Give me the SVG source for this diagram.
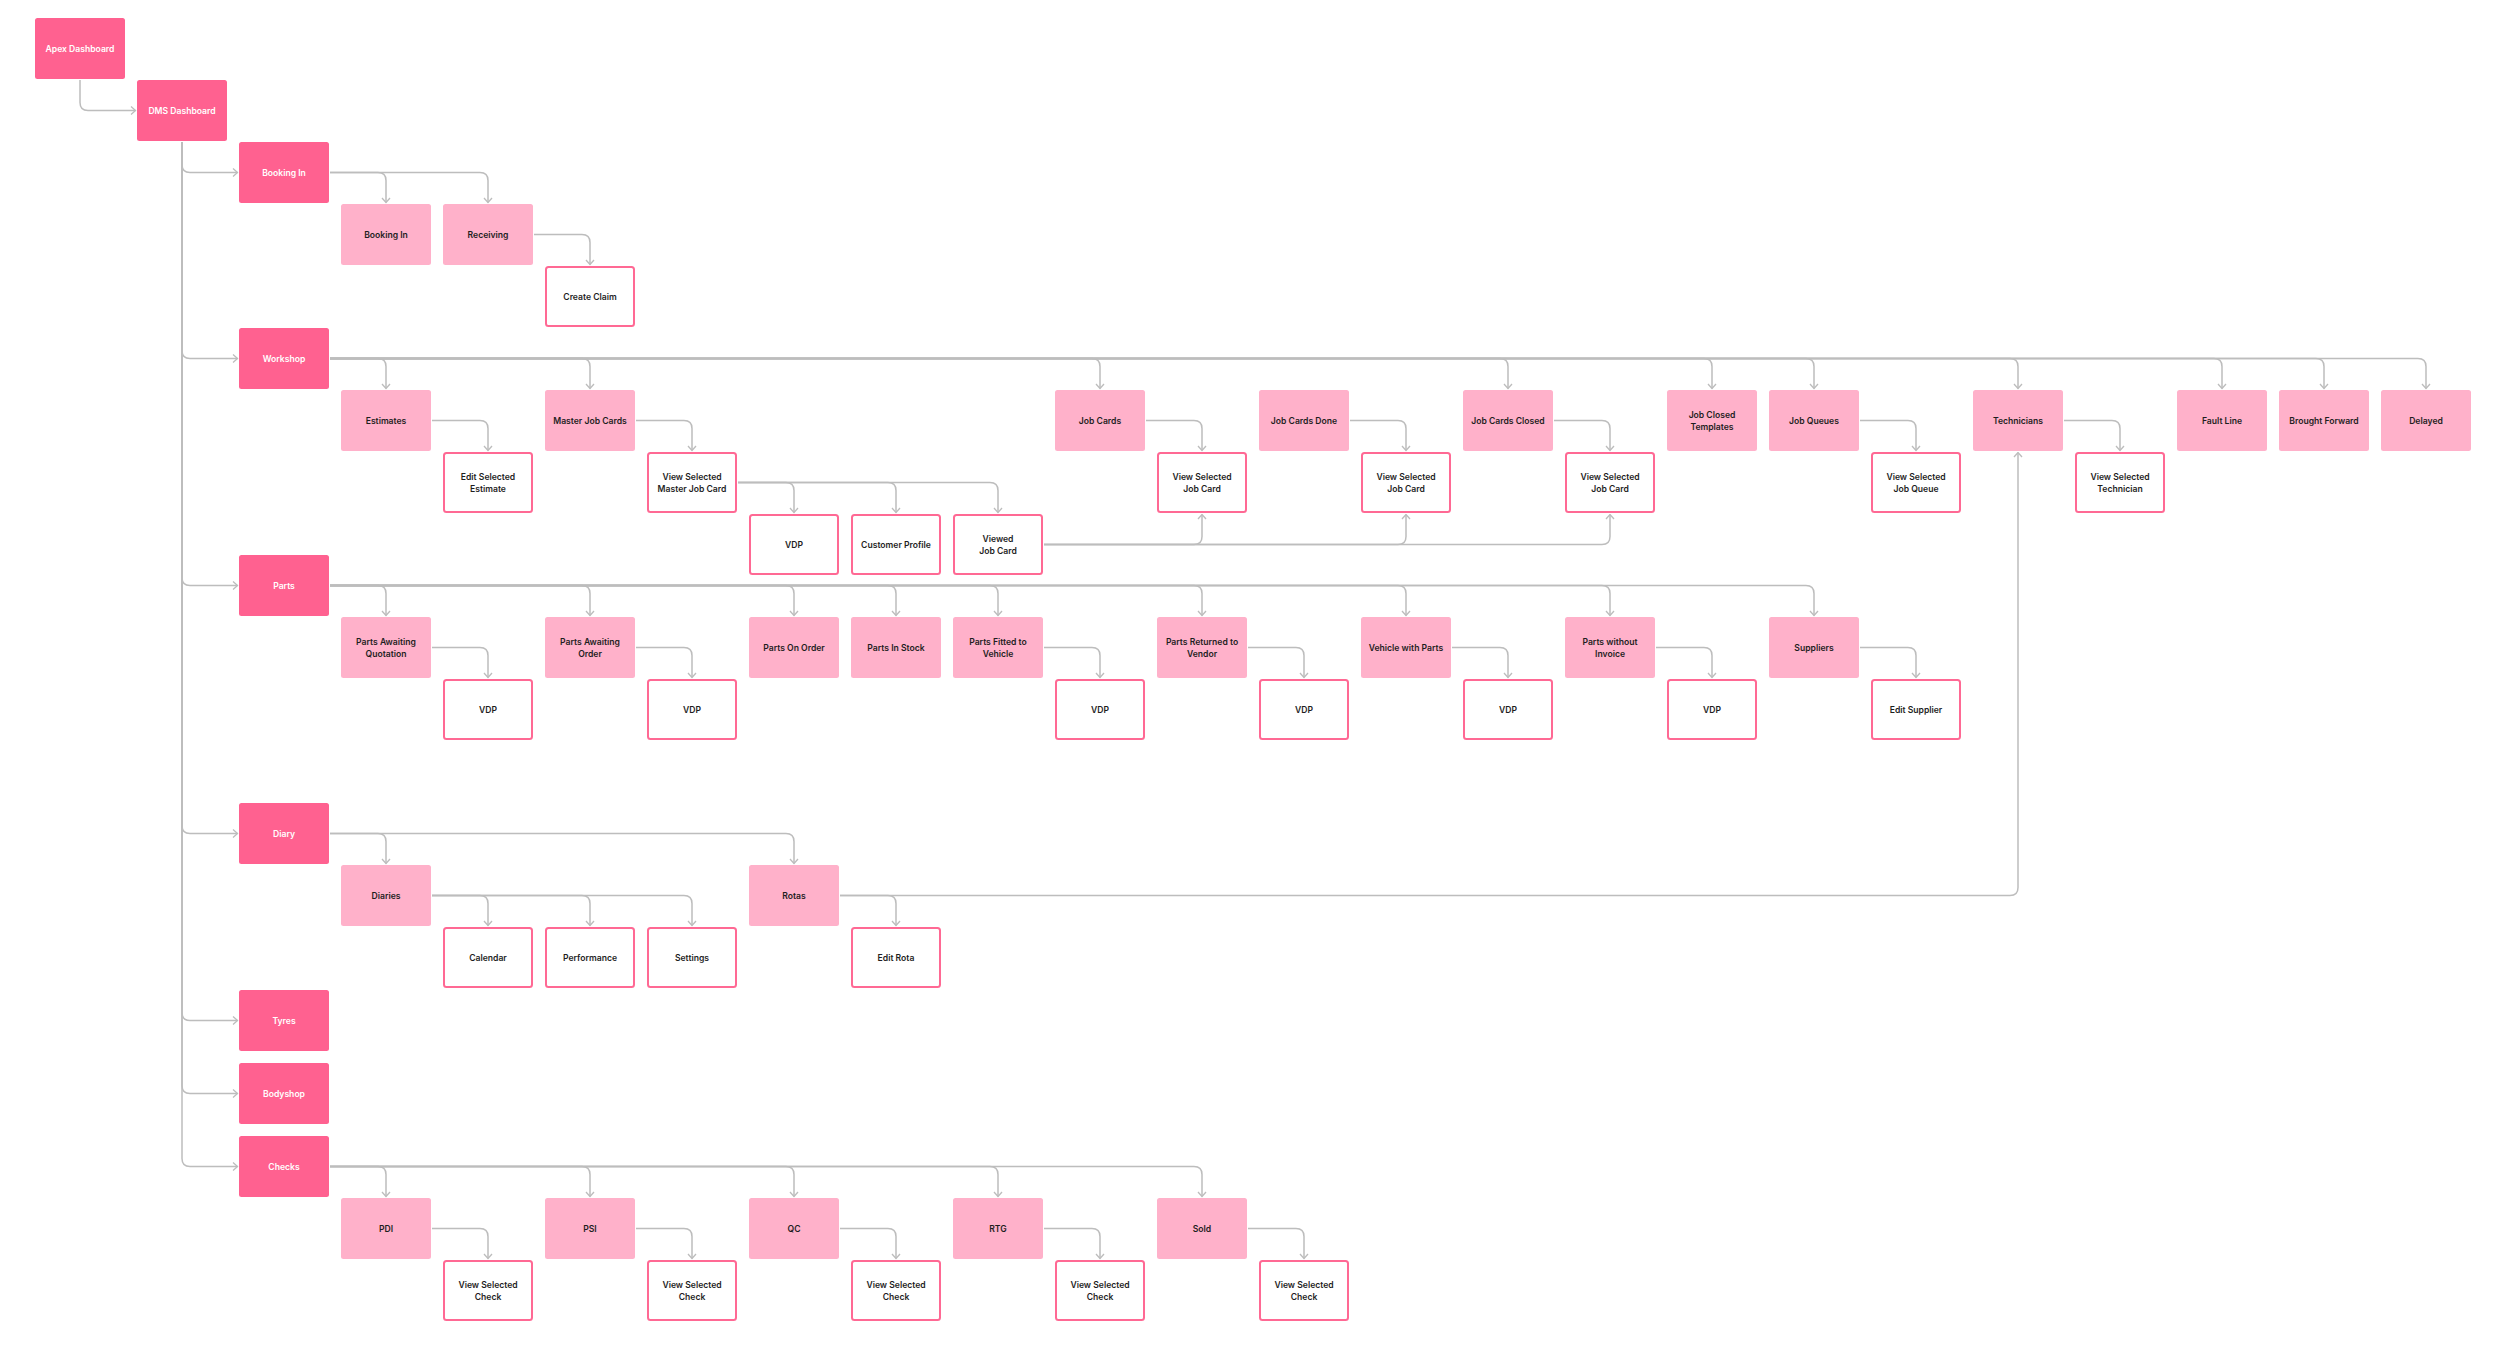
<svg xmlns="http://www.w3.org/2000/svg" width="2500" height="1349" viewBox="0 0 2500 1349">
<style>
.l1{fill:#FF6190}
.l2{fill:#FFB1CA}
.l3{fill:#FFFFFF;stroke:#FF6994;stroke-width:2}
text{font-family:Inter,"Liberation Sans",sans-serif;font-weight:600;font-size:8.6px;text-anchor:middle;fill:#1E1E1E}
.w{fill:#FFFFFF}
.c path{fill:none;stroke:#BDBDBD;stroke-width:1.5;marker-end:url(#arr)}
</style>
<defs>
<marker id="arr" viewBox="0 0 10 10" refX="9" refY="5" markerWidth="10" markerHeight="10" markerUnits="userSpaceOnUse" orient="auto"><path d="M4.5,1 L9,5 L4.5,9" fill="none" stroke="#BDBDBD" stroke-width="1.3"/></marker>
</defs>
<rect width="2500" height="1349" fill="#FFFFFF"/>
<g class="c" id="connectors">
<path d="M80,80 V102.5 Q80,110.5 88,110.5 H135.5"/>
<path d="M182,142 V164.5 Q182,172.5 190,172.5 H237.5"/>
<path d="M182,142 V350.5 Q182,358.5 190,358.5 H237.5"/>
<path d="M182,142 V577.5 Q182,585.5 190,585.5 H237.5"/>
<path d="M182,142 V825.5 Q182,833.5 190,833.5 H237.5"/>
<path d="M182,142 V1012.5 Q182,1020.5 190,1020.5 H237.5"/>
<path d="M182,142 V1085.5 Q182,1093.5 190,1093.5 H237.5"/>
<path d="M182,142 V1158.5 Q182,1166.5 190,1166.5 H237.5"/>
<path d="M330,172.5 H378 Q386,172.5 386,180.5 V202.5"/>
<path d="M330,172.5 H480 Q488,172.5 488,180.5 V202.5"/>
<path d="M534,234.5 H582 Q590,234.5 590,242.5 V264.5"/>
<path d="M330,358.5 H378 Q386,358.5 386,366.5 V388.5"/>
<path d="M330,358.5 H582 Q590,358.5 590,366.5 V388.5"/>
<path d="M330,358.5 H1092 Q1100,358.5 1100,366.5 V388.5"/>
<path d="M330,358.5 H1500 Q1508,358.5 1508,366.5 V388.5"/>
<path d="M330,358.5 H1704 Q1712,358.5 1712,366.5 V388.5"/>
<path d="M330,358.5 H1806 Q1814,358.5 1814,366.5 V388.5"/>
<path d="M330,358.5 H2010 Q2018,358.5 2018,366.5 V388.5"/>
<path d="M330,358.5 H2214 Q2222,358.5 2222,366.5 V388.5"/>
<path d="M330,358.5 H2316 Q2324,358.5 2324,366.5 V388.5"/>
<path d="M330,358.5 H2418 Q2426,358.5 2426,366.5 V388.5"/>
<path d="M432,420.5 H480 Q488,420.5 488,428.5 V450.5"/>
<path d="M636,420.5 H684 Q692,420.5 692,428.5 V450.5"/>
<path d="M738,482.5 H786 Q794,482.5 794,490.5 V512.5"/>
<path d="M738,482.5 H888 Q896,482.5 896,490.5 V512.5"/>
<path d="M738,482.5 H990 Q998,482.5 998,490.5 V512.5"/>
<path d="M1146,420.5 H1194 Q1202,420.5 1202,428.5 V450.5"/>
<path d="M1350,420.5 H1398 Q1406,420.5 1406,428.5 V450.5"/>
<path d="M1554,420.5 H1602 Q1610,420.5 1610,428.5 V450.5"/>
<path d="M1860,420.5 H1908 Q1916,420.5 1916,428.5 V450.5"/>
<path d="M2064,420.5 H2112 Q2120,420.5 2120,428.5 V450.5"/>
<path d="M1044,544.5 H1194 Q1202,544.5 1202,536.5 V514.5"/>
<path d="M1044,544.5 H1398 Q1406,544.5 1406,536.5 V514.5"/>
<path d="M1044,544.5 H1602 Q1610,544.5 1610,536.5 V514.5"/>
<path d="M330,585.5 H378 Q386,585.5 386,593.5 V615.5"/>
<path d="M330,585.5 H582 Q590,585.5 590,593.5 V615.5"/>
<path d="M330,585.5 H786 Q794,585.5 794,593.5 V615.5"/>
<path d="M330,585.5 H888 Q896,585.5 896,593.5 V615.5"/>
<path d="M330,585.5 H990 Q998,585.5 998,593.5 V615.5"/>
<path d="M330,585.5 H1194 Q1202,585.5 1202,593.5 V615.5"/>
<path d="M330,585.5 H1398 Q1406,585.5 1406,593.5 V615.5"/>
<path d="M330,585.5 H1602 Q1610,585.5 1610,593.5 V615.5"/>
<path d="M330,585.5 H1806 Q1814,585.5 1814,593.5 V615.5"/>
<path d="M432,647.5 H480 Q488,647.5 488,655.5 V677.5"/>
<path d="M636,647.5 H684 Q692,647.5 692,655.5 V677.5"/>
<path d="M1044,647.5 H1092 Q1100,647.5 1100,655.5 V677.5"/>
<path d="M1248,647.5 H1296 Q1304,647.5 1304,655.5 V677.5"/>
<path d="M1452,647.5 H1500 Q1508,647.5 1508,655.5 V677.5"/>
<path d="M1656,647.5 H1704 Q1712,647.5 1712,655.5 V677.5"/>
<path d="M1860,647.5 H1908 Q1916,647.5 1916,655.5 V677.5"/>
<path d="M330,833.5 H378 Q386,833.5 386,841.5 V863.5"/>
<path d="M330,833.5 H786 Q794,833.5 794,841.5 V863.5"/>
<path d="M432,895.5 H480 Q488,895.5 488,903.5 V925.5"/>
<path d="M432,895.5 H582 Q590,895.5 590,903.5 V925.5"/>
<path d="M432,895.5 H684 Q692,895.5 692,903.5 V925.5"/>
<path d="M840,895.5 H888 Q896,895.5 896,903.5 V925.5"/>
<path d="M840,895.5 H2010 Q2018,895.5 2018,887.5 V452.5"/>
<path d="M330,1166.5 H378 Q386,1166.5 386,1174.5 V1196.5"/>
<path d="M330,1166.5 H582 Q590,1166.5 590,1174.5 V1196.5"/>
<path d="M330,1166.5 H786 Q794,1166.5 794,1174.5 V1196.5"/>
<path d="M330,1166.5 H990 Q998,1166.5 998,1174.5 V1196.5"/>
<path d="M330,1166.5 H1194 Q1202,1166.5 1202,1174.5 V1196.5"/>
<path d="M432,1228.5 H480 Q488,1228.5 488,1236.5 V1258.5"/>
<path d="M636,1228.5 H684 Q692,1228.5 692,1236.5 V1258.5"/>
<path d="M840,1228.5 H888 Q896,1228.5 896,1236.5 V1258.5"/>
<path d="M1044,1228.5 H1092 Q1100,1228.5 1100,1236.5 V1258.5"/>
<path d="M1248,1228.5 H1296 Q1304,1228.5 1304,1236.5 V1258.5"/>
</g>
<g id="apex-dashboard"><rect class="l1" x="35" y="18" width="90" height="61" rx="2.5"/><text class="w" x="80" y="51.5">Apex Dashboard</text></g>
<g id="dms-dashboard"><rect class="l1" x="137" y="80" width="90" height="61" rx="2.5"/><text class="w" x="182" y="113.5">DMS Dashboard</text></g>
<g id="booking-in-section"><rect class="l1" x="239" y="142" width="90" height="61" rx="2.5"/><text class="w" x="284" y="175.5">Booking In</text></g>
<g id="workshop"><rect class="l1" x="239" y="328" width="90" height="61" rx="2.5"/><text class="w" x="284" y="361.5">Workshop</text></g>
<g id="parts"><rect class="l1" x="239" y="555" width="90" height="61" rx="2.5"/><text class="w" x="284" y="588.5">Parts</text></g>
<g id="diary"><rect class="l1" x="239" y="803" width="90" height="61" rx="2.5"/><text class="w" x="284" y="836.5">Diary</text></g>
<g id="tyres"><rect class="l1" x="239" y="990" width="90" height="61" rx="2.5"/><text class="w" x="284" y="1023.5">Tyres</text></g>
<g id="bodyshop"><rect class="l1" x="239" y="1063" width="90" height="61" rx="2.5"/><text class="w" x="284" y="1096.5">Bodyshop</text></g>
<g id="checks"><rect class="l1" x="239" y="1136" width="90" height="61" rx="2.5"/><text class="w" x="284" y="1169.5">Checks</text></g>
<g id="booking-in"><rect class="l2" x="341" y="204" width="90" height="61" rx="2.5"/><text x="386" y="237.5">Booking In</text></g>
<g id="receiving"><rect class="l2" x="443" y="204" width="90" height="61" rx="2.5"/><text x="488" y="237.5">Receiving</text></g>
<g id="create-claim"><rect class="l3" x="546" y="267" width="88" height="59" rx="2.5"/><text x="590" y="299.5">Create Claim</text></g>
<g id="estimates"><rect class="l2" x="341" y="390" width="90" height="61" rx="2.5"/><text x="386" y="423.5">Estimates</text></g>
<g id="edit-selected-estimate"><rect class="l3" x="444" y="453" width="88" height="59" rx="2.5"/><text x="488" y="480">Edit Selected</text><text x="488" y="492">Estimate</text></g>
<g id="master-job-cards"><rect class="l2" x="545" y="390" width="90" height="61" rx="2.5"/><text x="590" y="423.5">Master Job Cards</text></g>
<g id="view-selected-master-job-card"><rect class="l3" x="648" y="453" width="88" height="59" rx="2.5"/><text x="692" y="480">View Selected</text><text x="692" y="492">Master Job Card</text></g>
<g id="vdp-workshop"><rect class="l3" x="750" y="515" width="88" height="59" rx="2.5"/><text x="794" y="547.5">VDP</text></g>
<g id="customer-profile"><rect class="l3" x="852" y="515" width="88" height="59" rx="2.5"/><text x="896" y="547.5">Customer Profile</text></g>
<g id="viewed-job-card"><rect class="l3" x="954" y="515" width="88" height="59" rx="2.5"/><text x="998" y="542">Viewed</text><text x="998" y="554">Job Card</text></g>
<g id="job-cards"><rect class="l2" x="1055" y="390" width="90" height="61" rx="2.5"/><text x="1100" y="423.5">Job Cards</text></g>
<g id="view-selected-job-card-1"><rect class="l3" x="1158" y="453" width="88" height="59" rx="2.5"/><text x="1202" y="480">View Selected</text><text x="1202" y="492">Job Card</text></g>
<g id="job-cards-done"><rect class="l2" x="1259" y="390" width="90" height="61" rx="2.5"/><text x="1304" y="423.5">Job Cards Done</text></g>
<g id="view-selected-job-card-2"><rect class="l3" x="1362" y="453" width="88" height="59" rx="2.5"/><text x="1406" y="480">View Selected</text><text x="1406" y="492">Job Card</text></g>
<g id="job-cards-closed"><rect class="l2" x="1463" y="390" width="90" height="61" rx="2.5"/><text x="1508" y="423.5">Job Cards Closed</text></g>
<g id="view-selected-job-card-3"><rect class="l3" x="1566" y="453" width="88" height="59" rx="2.5"/><text x="1610" y="480">View Selected</text><text x="1610" y="492">Job Card</text></g>
<g id="job-closed-templates"><rect class="l2" x="1667" y="390" width="90" height="61" rx="2.5"/><text x="1712" y="418">Job Closed</text><text x="1712" y="430">Templates</text></g>
<g id="job-queues"><rect class="l2" x="1769" y="390" width="90" height="61" rx="2.5"/><text x="1814" y="423.5">Job Queues</text></g>
<g id="view-selected-job-queue"><rect class="l3" x="1872" y="453" width="88" height="59" rx="2.5"/><text x="1916" y="480">View Selected</text><text x="1916" y="492">Job Queue</text></g>
<g id="technicians"><rect class="l2" x="1973" y="390" width="90" height="61" rx="2.5"/><text x="2018" y="423.5">Technicians</text></g>
<g id="view-selected-technician"><rect class="l3" x="2076" y="453" width="88" height="59" rx="2.5"/><text x="2120" y="480">View Selected</text><text x="2120" y="492">Technician</text></g>
<g id="fault-line"><rect class="l2" x="2177" y="390" width="90" height="61" rx="2.5"/><text x="2222" y="423.5">Fault Line</text></g>
<g id="brought-forward"><rect class="l2" x="2279" y="390" width="90" height="61" rx="2.5"/><text x="2324" y="423.5">Brought Forward</text></g>
<g id="delayed"><rect class="l2" x="2381" y="390" width="90" height="61" rx="2.5"/><text x="2426" y="423.5">Delayed</text></g>
<g id="parts-awaiting-quotation"><rect class="l2" x="341" y="617" width="90" height="61" rx="2.5"/><text x="386" y="645">Parts Awaiting</text><text x="386" y="657">Quotation</text></g>
<g id="vdp-paq"><rect class="l3" x="444" y="680" width="88" height="59" rx="2.5"/><text x="488" y="712.5">VDP</text></g>
<g id="parts-awaiting-order"><rect class="l2" x="545" y="617" width="90" height="61" rx="2.5"/><text x="590" y="645">Parts Awaiting</text><text x="590" y="657">Order</text></g>
<g id="vdp-pao"><rect class="l3" x="648" y="680" width="88" height="59" rx="2.5"/><text x="692" y="712.5">VDP</text></g>
<g id="parts-on-order"><rect class="l2" x="749" y="617" width="90" height="61" rx="2.5"/><text x="794" y="650.5">Parts On Order</text></g>
<g id="parts-in-stock"><rect class="l2" x="851" y="617" width="90" height="61" rx="2.5"/><text x="896" y="650.5">Parts In Stock</text></g>
<g id="parts-fitted-to-vehicle"><rect class="l2" x="953" y="617" width="90" height="61" rx="2.5"/><text x="998" y="645">Parts Fitted to</text><text x="998" y="657">Vehicle</text></g>
<g id="vdp-pfv"><rect class="l3" x="1056" y="680" width="88" height="59" rx="2.5"/><text x="1100" y="712.5">VDP</text></g>
<g id="parts-returned-to-vendor"><rect class="l2" x="1157" y="617" width="90" height="61" rx="2.5"/><text x="1202" y="645">Parts Returned to</text><text x="1202" y="657">Vendor</text></g>
<g id="vdp-prv"><rect class="l3" x="1260" y="680" width="88" height="59" rx="2.5"/><text x="1304" y="712.5">VDP</text></g>
<g id="vehicle-with-parts"><rect class="l2" x="1361" y="617" width="90" height="61" rx="2.5"/><text x="1406" y="650.5">Vehicle with Parts</text></g>
<g id="vdp-vwp"><rect class="l3" x="1464" y="680" width="88" height="59" rx="2.5"/><text x="1508" y="712.5">VDP</text></g>
<g id="parts-without-invoice"><rect class="l2" x="1565" y="617" width="90" height="61" rx="2.5"/><text x="1610" y="645">Parts without</text><text x="1610" y="657">Invoice</text></g>
<g id="vdp-pwi"><rect class="l3" x="1668" y="680" width="88" height="59" rx="2.5"/><text x="1712" y="712.5">VDP</text></g>
<g id="suppliers"><rect class="l2" x="1769" y="617" width="90" height="61" rx="2.5"/><text x="1814" y="650.5">Suppliers</text></g>
<g id="edit-supplier"><rect class="l3" x="1872" y="680" width="88" height="59" rx="2.5"/><text x="1916" y="712.5">Edit Supplier</text></g>
<g id="diaries"><rect class="l2" x="341" y="865" width="90" height="61" rx="2.5"/><text x="386" y="898.5">Diaries</text></g>
<g id="calendar"><rect class="l3" x="444" y="928" width="88" height="59" rx="2.5"/><text x="488" y="960.5">Calendar</text></g>
<g id="performance"><rect class="l3" x="546" y="928" width="88" height="59" rx="2.5"/><text x="590" y="960.5">Performance</text></g>
<g id="settings"><rect class="l3" x="648" y="928" width="88" height="59" rx="2.5"/><text x="692" y="960.5">Settings</text></g>
<g id="rotas"><rect class="l2" x="749" y="865" width="90" height="61" rx="2.5"/><text x="794" y="898.5">Rotas</text></g>
<g id="edit-rota"><rect class="l3" x="852" y="928" width="88" height="59" rx="2.5"/><text x="896" y="960.5">Edit Rota</text></g>
<g id="pdi"><rect class="l2" x="341" y="1198" width="90" height="61" rx="2.5"/><text x="386" y="1231.5">PDI</text></g>
<g id="view-selected-check-pdi"><rect class="l3" x="444" y="1261" width="88" height="59" rx="2.5"/><text x="488" y="1288">View Selected</text><text x="488" y="1300">Check</text></g>
<g id="psi"><rect class="l2" x="545" y="1198" width="90" height="61" rx="2.5"/><text x="590" y="1231.5">PSI</text></g>
<g id="view-selected-check-psi"><rect class="l3" x="648" y="1261" width="88" height="59" rx="2.5"/><text x="692" y="1288">View Selected</text><text x="692" y="1300">Check</text></g>
<g id="qc"><rect class="l2" x="749" y="1198" width="90" height="61" rx="2.5"/><text x="794" y="1231.5">QC</text></g>
<g id="view-selected-check-qc"><rect class="l3" x="852" y="1261" width="88" height="59" rx="2.5"/><text x="896" y="1288">View Selected</text><text x="896" y="1300">Check</text></g>
<g id="rtg"><rect class="l2" x="953" y="1198" width="90" height="61" rx="2.5"/><text x="998" y="1231.5">RTG</text></g>
<g id="view-selected-check-rtg"><rect class="l3" x="1056" y="1261" width="88" height="59" rx="2.5"/><text x="1100" y="1288">View Selected</text><text x="1100" y="1300">Check</text></g>
<g id="sold"><rect class="l2" x="1157" y="1198" width="90" height="61" rx="2.5"/><text x="1202" y="1231.5">Sold</text></g>
<g id="view-selected-check-sold"><rect class="l3" x="1260" y="1261" width="88" height="59" rx="2.5"/><text x="1304" y="1288">View Selected</text><text x="1304" y="1300">Check</text></g>
</svg>
